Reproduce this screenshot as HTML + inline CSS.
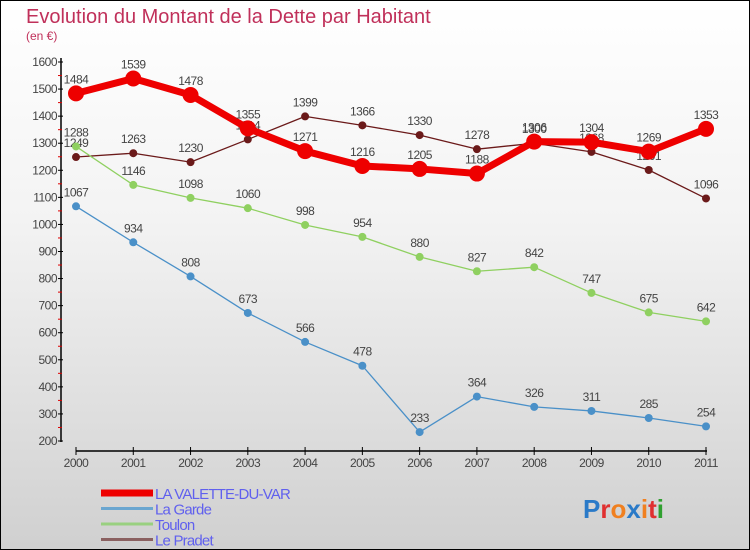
<!DOCTYPE html>
<html><head><meta charset="utf-8"><style>
body{margin:0}
#c{width:748px;height:548px;border:1px solid #000;background:linear-gradient(#fff,#f3f3f3 40%,#d0d0d0);position:relative;font-family:"Liberation Sans",sans-serif}
</style></head><body>
<div id="c">
<svg id="s" width="748" height="548" style="position:absolute;left:0;top:0">
<text x="25" y="22" font-size="20" fill="#c0305a">Evolution du Montant de la Dette par Habitant</text>
<text x="25" y="39" font-size="12" fill="#c0305a">(en €)</text>
</svg>
</div>
<script>
const years=[2000,2001,2002,2003,2004,2005,2006,2007,2008,2009,2010,2011];
const valette=[1484,1539,1478,1355,1271,1216,1205,1188,1306,1304,1269,1353];
const garde=[1067,934,808,673,566,478,233,364,326,311,285,254];
const toulon=[1288,1146,1098,1060,998,954,880,827,842,747,675,642];
const pradet=[1249,1263,1230,1314,1399,1366,1330,1278,1300,1268,1201,1096];
const yTicks=[200,300,400,500,600,700,800,900,1000,1100,1200,1300,1400,1500,1600];
const NS="http://www.w3.org/2000/svg",svg=document.getElementById('s');
const X=i=>75+i*(630/11);
const Y=v=>440-(v-200)*(379/1400);
function mk(t,a,p){const e=document.createElementNS(NS,t);for(const k in a)e.setAttribute(k,a[k]);(p||svg).appendChild(e);return e;}
// axes
let ya=mk('line',{x1:60,y1:57,x2:60,y2:441,stroke:'#000','stroke-width':1.5});


let xa=mk('line',{x1:75,y1:450,x2:706,y2:450,stroke:'#000','stroke-width':1.5});


yTicks.forEach(v=>{
 mk('line',{x1:57,y1:Y(v),x2:62,y2:Y(v),stroke:'#000'});
 if(v<1600)mk('line',{x1:57,y1:Y(v+50),x2:61,y2:Y(v+50),stroke:'#d00'});
 const t=mk('text',{x:56,y:Y(v)+4,'font-size':12,'text-anchor':'end',fill:'#444','letter-spacing':'-0.5'});
 t.textContent=v;
 
 
});
years.forEach((y,i)=>{
 mk('line',{x1:X(i),y1:446,x2:X(i),y2:454,stroke:'#000'});
 const t=mk('text',{x:X(i),y:466,'font-size':12,'text-anchor':'middle',fill:'#444','letter-spacing':'-0.5'});
 t.textContent=y;
 
 
});
function series(d,col,w,r,name){
 const g=mk('g',{});
 
 
 mk('polyline',{points:d.map((v,i)=>X(i)+','+Y(v)).join(' '),fill:'none',stroke:col,'stroke-width':w,'stroke-linejoin':'round'},g);
 d.forEach((v,i)=>{
  const c=mk('circle',{cx:X(i),cy:Y(v),r:r,fill:col},g);
  
  
  const t=mk('text',{x:X(i),y:Y(v)-10,'font-size':12,'text-anchor':'middle',fill:'#444','letter-spacing':'-0.5'},g);
  t.textContent=v;
  
  
 });
}
series(pradet,'#6b1a1a',1.3,4,'le-pradet');
series(toulon,'#8fd060',1.3,4,'toulon');
series(garde,'#4a90c8',1.3,4,'la-garde');
series(valette,'#ee0000',7,8,'la-valette');
// legend
const leg=[['LA VALETTE-DU-VAR','#ee0000',7],['La Garde','#6aa6d0',3],['Toulon','#99d080',3],['Le Pradet','#8a6060',3]];
leg.forEach((l,i)=>{
 const y=492+i*15.5;
 const g=mk('g',{});
 
 
 mk('line',{x1:100,y1:y,x2:152,y2:y,stroke:l[1],'stroke-width':l[2]},g);
 const t=mk('text',{x:154,y:y+6,'font-size':15,fill:'#6060ee','letter-spacing':'-0.8'},g);
 t.textContent=l[0];
});
const lg=mk('text',{x:582,y:517,'font-size':26,'font-weight':'bold'});


[['P','#2a7ac8'],['r','#e03030'],['o','#f08020'],['x','#2a7ac8'],['i','#f08020'],['t','#e03030'],['i','#30a030']].forEach(p=>{const s=mk('tspan',{fill:p[1]},lg);s.textContent=p[0];});
</script>
</body></html>
